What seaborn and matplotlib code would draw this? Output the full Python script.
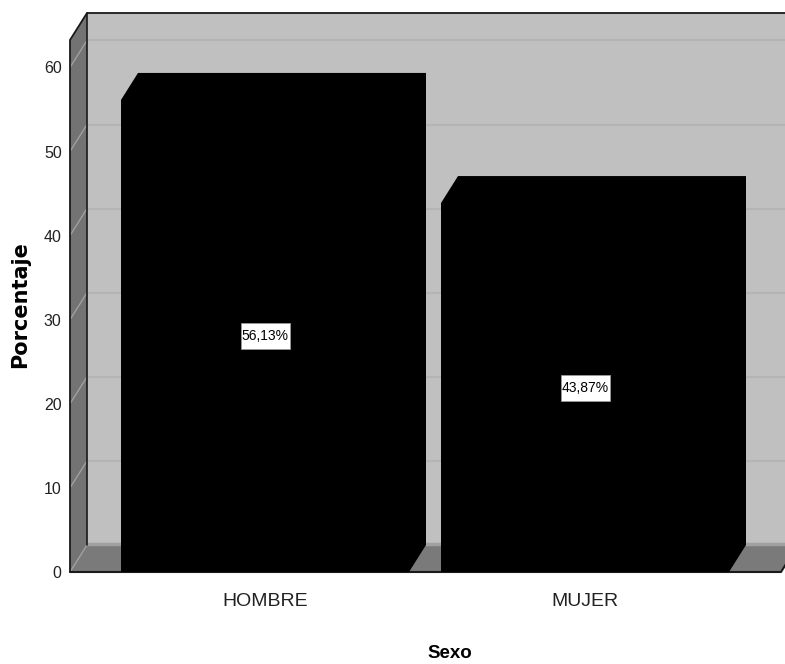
import matplotlib
matplotlib.use("Agg")
import matplotlib.pyplot as plt
import seaborn as sns
from matplotlib.patches import Polygon, Rectangle

categorias = ["HOMBRE", "MUJER"]
porcentajes = [56.13, 43.87]
etiquetas = ["56,13%", "43,87%"]
ticks_y = [0, 10, 20, 30, 40, 50, 60]

sns.set_theme(style="white")
plt.rcParams["font.family"] = ["Liberation Sans", "DejaVu Sans"]

W, H = 785, 664
# caja frontal en pixeles
izq, der, arriba, abajo = 70, 781, 40, 572
fig = plt.figure(figsize=(W / 100, H / 100), dpi=100)
ax = fig.add_axes([izq / W, 1 - abajo / H, (der - izq) / W, (abajo - arriba) / H])

px_x = 320  # pixeles entre categorias
px_y = 8.41  # pixeles por unidad de porcentaje
x0 = (izq - 265) / px_x
x1 = (der - 265) / px_x
y1 = (abajo - arriba) / px_y
dx = 17 / px_x  # profundidad 3d
dy = 27 / px_y

# paredes y suelo
ax.add_patch(Polygon([(x0 + dx, dy), (x1 + dx, dy), (x1 + dx, y1 + dy), (x0 + dx, y1 + dy)],
                     fc="#c0c0c0", ec="none", clip_on=False, zorder=0))
ax.add_patch(Polygon([(x0, 0), (x0 + dx, dy), (x0 + dx, y1 + dy), (x0, y1)],
                     fc="#737373", ec="none", clip_on=False, zorder=0.5))
ax.add_patch(Polygon([(x0, 0), (x1, 0), (x1 + dx, dy), (x0 + dx, dy)],
                     fc="#7a7a7a", ec="none", clip_on=False, zorder=0.5))
ax.plot([x0 + dx, x1 + dx], [dy + 0.15, dy + 0.15], color="#a0a0a0", lw=2.5, clip_on=False, zorder=0.6)

# rejilla
for t in ticks_y:
    if t > 0:
        ax.plot([x0 + dx, x1 + dx], [t + dy, t + dy], color="#b4b4b4", lw=1.5, clip_on=False, zorder=0.7)
    ax.plot([x0, x0 + dx], [t, t + dy], color="#a0a0a0", lw=1, clip_on=False, zorder=0.7)

# bordes de la caja
ax.plot([x0, x0, x0 + dx, x1 + dx], [0, y1, y1 + dy, y1 + dy], color="#1a1a1a", lw=1.3, clip_on=False, zorder=1)
ax.plot([x0 + dx, x0 + dx], [dy, y1 + dy], color="#1a1a1a", lw=1.2, clip_on=False, zorder=1)
ax.plot([x0, x1, x1 + dx], [0, 0, dy], color="#1a1a1a", lw=1.5, clip_on=False, zorder=1)

# barras
sns.barplot(x=categorias, y=porcentajes, color="black", saturation=1, width=0.9,
            edgecolor="black", linewidth=0, ax=ax, zorder=2)
for barra in list(ax.patches):
    if barra.get_zorder() != 2:
        continue
    a = barra.get_x()
    b = a + barra.get_width()
    h = barra.get_height()
    c = (a + b) / 2
    ax.add_patch(Polygon([(a, h), (a + dx, h + dy), (b + dx, h + dy), (b + dx, dy), (b, 0)],
                         fc="black", ec="none", clip_on=False, zorder=2))
    # caja de la etiqueta
    ancho, alto = 49 / px_x, 26 / px_y
    ax.add_patch(Rectangle((c - ancho / 2, h / 2 - alto / 2), ancho, alto, fc="white",
                           ec="#999999", lw=0.6, zorder=3))
    ax.text(c, h / 2, etiquetas[int(round(c))], ha="center", va="center",
            fontsize=10, color="black", zorder=4)

ax.set_xlim(x0, x1)
ax.set_ylim(0, y1)
ax.set_yticks(ticks_y)
ax.tick_params(axis="y", labelsize=11.5, length=0, pad=6, labelcolor="#222222")
ax.tick_params(axis="x", labelsize=14, length=0, pad=15, labelcolor="#222222")
for s in ax.spines.values():
    s.set_visible(False)
ax.patch.set_alpha(0)
ax.set_xlabel("Sexo", fontsize=13.5, fontweight="bold", color="black", va="center")
ax.xaxis.set_label_coords((450 - izq) / (der - izq), -(653 - abajo) / (abajo - arriba))
ax.set_ylabel("Porcentaje", fontsize=15, fontweight="bold", color="black",
              family="DejaVu Sans", va="center")
ax.yaxis.set_label_coords((20 - izq) / (der - izq), (abajo - 305) / (abajo - arriba))

fig.savefig("out.png", dpi=100)
